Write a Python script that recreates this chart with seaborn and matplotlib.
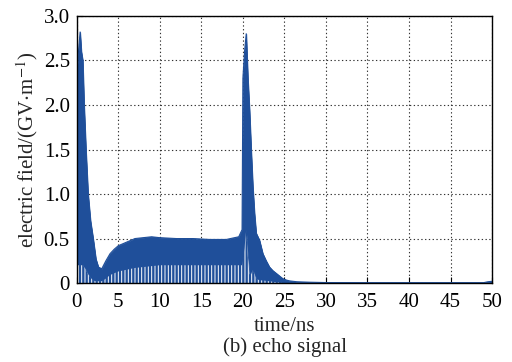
import matplotlib
matplotlib.use("Agg")
import matplotlib.pyplot as plt
import seaborn as sns
import pandas as pd

# envelope of the echo signal
time_ns = [0, 0.2, 0.4, 0.55, 0.72, 0.88, 1.1, 1.36, 1.65, 1.97, 2.3, 2.6, 3.0, 3.5, 4.0,
           4.5, 5.0, 5.5, 6.0, 7.0, 8.0, 9.0, 10.0, 12.0, 14.0, 16.0, 18.0, 19.5, 19.9,
           20.0, 20.2, 20.4, 20.6, 20.8, 21.0, 21.2, 21.4, 21.6, 22.0, 22.4, 22.8, 23.2,
           23.6, 24.0, 24.4, 24.8, 25.2, 25.6, 26.5, 28, 30, 35, 40, 45, 49, 49.5, 50]
upper_env = [2.35, 2.6, 2.82, 2.6, 2.5, 2.0, 1.5, 1.0, 0.7, 0.5, 0.27, 0.18, 0.16, 0.25,
             0.33, 0.38, 0.42, 0.44, 0.46, 0.5, 0.51, 0.52, 0.51, 0.5, 0.5, 0.49, 0.49,
             0.52, 0.6, 2.3, 2.6, 2.8, 2.3, 1.94, 1.49, 1.08, 0.78, 0.56, 0.48, 0.33, 0.25,
             0.18, 0.14, 0.11, 0.08, 0.05, 0.035, 0.025, 0.015, 0.01, 0.006, 0.005, 0.005,
             0.005, 0.005, 0.015, 0.02]
solid_env = [0.2, 0.2, 0.2, 0.2, 0.2, 0.18, 0.15, 0.1, 0.06, 0.03, 0.02, 0.02, 0.02, 0.05,
             0.09, 0.11, 0.13, 0.14, 0.15, 0.17, 0.18, 0.19, 0.2, 0.2, 0.2, 0.2, 0.2, 0.2,
             0.2, 0.25, 0.4, 0.6, 0.3, 0.1, 0.1, 0.15, 0.1, 0.05, 0.03, 0.03, 0.025, 0.02,
             0.015, 0.01, 0.005, 0.0, 0.0, 0.0, 0.0, 0.0, 0.0, 0.0, 0.0, 0.0, 0.0, 0.0, 0.0]

x_ticks = [0, 5, 10, 15, 20, 25, 30, 35, 40, 45, 50]
y_ticks = [0, 0.5, 1.0, 1.5, 2.0, 2.5, 3.0]
y_tick_labels = ["0", "0.5", "1.0", "1.5", "2.0", "2.5", "3.0"]

df = pd.DataFrame({"t": time_ns, "up": upper_env, "lo": solid_env})

sns.set_style("ticks")
plt.rcParams["font.family"] = ["Liberation Serif", "DejaVu Serif"]
plt.rcParams["mathtext.fontset"] = "stix"
plt.rcParams["hatch.linewidth"] = 0.7

blue = "#1F4F9A"
fig = plt.figure(figsize=(5.12, 3.62), dpi=100)
ax = fig.add_axes([0.150, 0.218, 0.811, 0.738])

ax.fill_between(df["t"], df["lo"], df["up"], color=blue, linewidth=0.6, zorder=3)
ax.fill_between(df["t"], 0, df["lo"], facecolor=blue, edgecolor="white", hatch="|||||",
                linewidth=0, zorder=3)
sns.lineplot(data=df, x="t", y="up", ax=ax, color=blue, linewidth=0.8, zorder=4)

ax.set_xlim(0, 50)
ax.set_ylim(0, 3.0)
ax.set_xticks(x_ticks)
ax.set_yticks(y_ticks)
ax.set_yticklabels(y_tick_labels)
ax.grid(True, color="#333333", linestyle=(0, (1.2, 2.2)), linewidth=0.8, zorder=1)
ax.tick_params(direction="in", length=4, width=0.8, labelsize=15, colors="black")
ax.tick_params(axis="x", pad=7)
ax.tick_params(axis="y", pad=5)
for s in ax.spines.values():
    s.set_linewidth(1.0)
    s.set_color("black")
    s.set_zorder(5)

ax.set_xlabel("time/ns", fontsize=15, labelpad=4)
ax.set_ylabel(r"electric field/(GV$\cdot$m$^{-1}$)", fontsize=15, labelpad=3)
fig.text(0.556, 0.040, "(b) echo signal", ha="center", va="center", fontsize=15)

fig.savefig("out.png", dpi=100)
